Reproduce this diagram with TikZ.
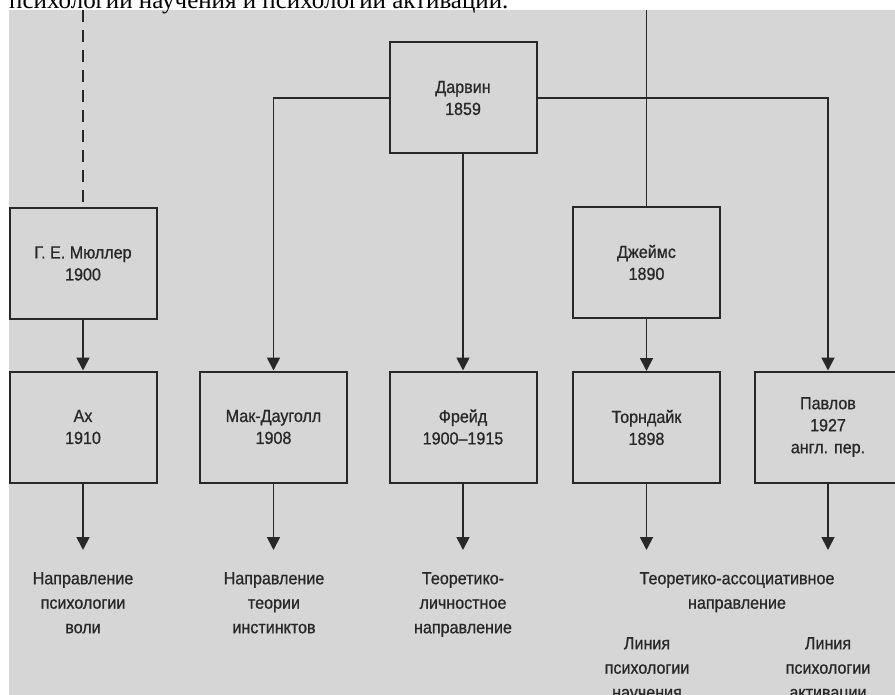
\documentclass[tikz,border=0pt]{standalone}
\usepackage{fontspec}
\setmainfont{Liberation Sans}[FakeStretch=0.92,FakeBold=0.8]
\newfontfamily\headserif{Liberation Serif}
\usetikzlibrary{arrows.meta}
\definecolor{bg}{RGB}{214,214,214}
\definecolor{ink}{RGB}{40,40,40}
\begin{document}
\begin{tikzpicture}[x=1pt,y=-1pt,
  box/.style={draw=ink, line width=2pt, minimum width=147pt, minimum height=111pt,
    inner sep=0pt, align=center, text=ink, font=\fontsize{17.5}{22}\selectfont},
  lab/.style={align=center, text=ink, font=\fontsize{17.5}{24.5}\selectfont, inner sep=0pt},
  conn/.style={draw=ink, line width=1.8pt},
  arr/.style={conn, -{Triangle[length=13pt,width=13pt]}},
  dashconn/.style={conn, line width=2.2pt, dash pattern=on 12pt off 8pt}
]
\useasboundingbox (0,0) rectangle (895,695);
\fill[bg] (9,10.5) rectangle (895,695);
\node[anchor=base west, inner sep=0pt, font=\headserif\fontsize{25}{25}\selectfont] (head) at (9,8.5) {психологии научения и психологии активации.};

% boxes
\node[box] (mul) at (83,263.5) {Г. Е. Мюллер\\1900};
\node[box] (ah) at (83,427) {Ах\\1910};
\node[box] (mak) at (273.5,427) {Мак-Дауголл\\1908};
\node[box] (darwin) at (463,98) {Дарвин\\1859};
\node[box] (freud) at (463,427) {Фрейд\\1900–1915};
\node[box] (james) at (646.5,262.5) {Джеймс\\1890};
\node[box] (thorn) at (646.5,427.5) {Торндайк\\1898};
\node[box] (pavlov) at (828,427) {Павлов\\1927\\англ. пер.};

% top free ends
\coordinate (dashtop) at (83,10.5);
\coordinate (jamestop) at (646.5,10.5);

% connectors above the boxes
\draw[dashconn] (dashtop) -- (mul.north);
\draw[conn] (jamestop) -- (james.north);
\draw[arr] (mul.south) -- (ah.north);
\draw[arr] (darwin.west) -| (mak.north);
\draw[arr] (darwin.south) -- (freud.north);
\draw[arr] (darwin.east) -| (pavlov.north);
\draw[arr] (james.south) -- (thorn.north);

% bottom free ends
\coordinate (ahend) at (83,550);
\coordinate (makend) at (273.5,550);
\coordinate (freudend) at (463,550);
\coordinate (thornend) at (646.5,550);
\coordinate (pavlovend) at (828,550);
\draw[arr] (ah.south) -- (ahend);
\draw[arr] (mak.south) -- (makend);
\draw[arr] (freud.south) -- (freudend);
\draw[arr] (thorn.south) -- (thornend);
\draw[arr] (pavlov.south) -- (pavlovend);

% labels
\node[lab, anchor=north] (l1) at (83,572) {Направление\\психологии\\воли};
\node[lab, anchor=north] (l2) at (274,572) {Направление\\теории\\инстинктов};
\node[lab, anchor=north] (l3) at (463,572) {Теоретико-\\личностное\\направление};
\node[lab, anchor=north] (l4) at (737,572) {Теоретико-ассоциативное\\направление};
\node[lab, anchor=north] (l5) at (647,637) {Линия\\психологии\\научения};
\node[lab, anchor=north] (l6) at (828,637) {Линия\\психологии\\активации};
\end{tikzpicture}
\end{document}
